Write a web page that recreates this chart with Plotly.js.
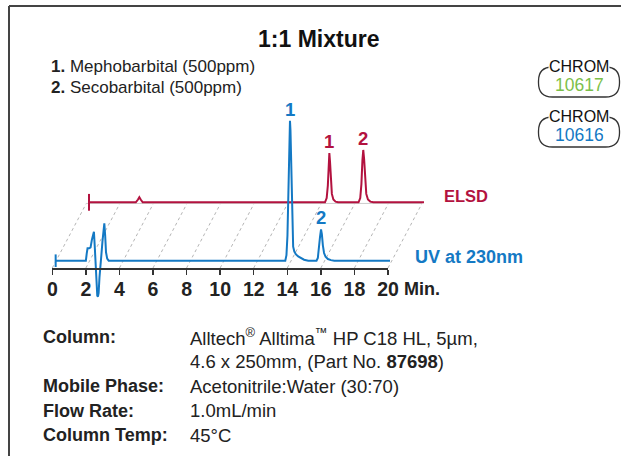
<!DOCTYPE html>
<html>
<head>
<meta charset="utf-8">
<script src="https://cdn.plot.ly/plotly-3.0.1.min.js"></script>
<style>html,body{margin:0;padding:0;background:#fff;}#chart{width:621px;height:456px;}</style>
</head>
<body>
<div id="chart"></div>
<script>
// ---------------- data ----------------
const xTicks = [0, 2, 4, 6, 8, 10, 12, 14, 16, 18, 20];
const xTickText = ["0", "2", "4", "6", "8", "10", "12", "14", "16", "18", "20"];
const xUnitLabel = "Min.";

// UV at 230nm trace (time in min, relative signal)
const uvTime = [0.20, 2.00, 2.05, 2.10, 2.20, 2.28, 2.36, 2.43, 2.48, 2.53, 2.58, 2.63, 2.68, 2.72, 2.76, 2.81, 2.87,
  2.93, 2.99, 3.05, 3.10, 3.15, 3.20, 3.27, 3.36,
  13.88, 13.95, 14.01, 14.06, 14.10, 14.13, 14.16, 14.19, 14.22, 14.26, 14.30, 14.35, 14.42, 14.52, 14.65, 14.82, 15.00, 15.25,
  15.74, 15.82, 15.89, 15.95, 16.01, 16.06, 16.12, 16.19, 16.28, 16.42, 16.60, 16.80, 20.12];
const uvSignal = [0, 0, 5, 8.9, 8.9, 9.5, 15, 19.5, 20.7, 10, -5, -18, -25, -25.7, -23, -12, 0,
  5, 14, 23, 26.7, 18, 6, 1.5, 0,
  0, 4, 18, 50, 82, 97, 100, 93, 72, 42, 20, 10, 6.5, 4.5, 3, 1.6, 0.7, 0,
  0, 2, 8, 17, 22.4, 19, 11, 5.5, 2.8, 1.2, 0.4, 0, 0];

// ELSD trace (time in min, relative signal)
const elsdTime = [0.16, 2.95, 3.08, 3.16, 3.24, 3.36,
  14.22, 14.32, 14.39, 14.44, 14.48, 14.52, 14.57, 14.63, 14.72, 14.85, 15.00,
  16.22, 16.32, 16.39, 16.45, 16.50, 16.55, 16.61, 16.68, 16.78, 16.92, 17.10, 20.12];
const elsdSignal = [0, 0, 2, 3.6, 2, 0,
  0, 3, 12, 27, 35.2, 29, 15, 6, 2, 0.5, 0,
  0, 3, 13, 30, 37.4, 31, 16, 6, 2, 0.5, 0, 0];

// peak identification
const uvPeakLabels = ["1", "2"];
const uvPeakTimes = [14.16, 16.01];
const elsdPeakLabels = ["1", "2"];
const elsdPeakTimes = [14.48, 16.50];

const traceNames = ["ELSD", "UV at 230nm"];
const titleText = "1:1 Mixture";
const compounds = ["Mephobarbital (500ppm)", "Secobarbital (500ppm)"];
const condLabels = ["Column:", "", "Mobile Phase:", "Flow Rate:", "Column Temp:"];
const condValues = ["Alltech<sup>®</sup> Alltima<sup>™</sup> HP C18 HL, 5µm,",
  "4.6 x 250mm, (Part No. <b>87698</b>)",
  "Acetonitrile:Water (30:70)", "1.0mL/min", "45°C"];
const chromCodes = ["10617", "10616"];

// ---------------- presentation ----------------
const W = 621, H = 456;
const P = x => x / W;          // px -> paper x
const Q = y => 1 - y / H;      // px -> paper y
const T0_PX = 52.3, PX_PER_MIN = 16.785;   // x calibration
const BASE_PX = 260.7, PX_PER_UNIT = 1.4;  // y calibration
const DEPTH_X = 2.026;       // perspective offset of the ELSD plane (min)
const ELSD_LIFT = 41.7;      // ELSD baseline lift (units)
const FLOOR_UV = -5.2, FLOOR_ELSD = 40.9;

const BLUE = "#1479c4", RED = "#b3123f", GREEN = "#7cbf4a", INK = "#222";
const SANS = "'Liberation Sans', Arial, Helvetica, sans-serif";

const lastTick = xTicks[xTicks.length - 1];

// perspective grid lines
const gx = [], gy = [];
xTicks.forEach(t => { gx.push(t, t + DEPTH_X, null); gy.push(FLOOR_UV, FLOOR_ELSD, null); });

const traces = [
  {x: gx, y: gy, mode: "lines", line: {color: "#b5b5b5", width: 1, dash: "3px,3px"}, hoverinfo: "skip", showlegend: false},
  {x: [xTicks[0] + DEPTH_X, lastTick + DEPTH_X], y: [FLOOR_ELSD, FLOOR_ELSD], mode: "lines",
   line: {color: "#cccccc", width: 1}, hoverinfo: "skip", showlegend: false},
  {x: elsdTime.map(t => t + DEPTH_X), y: elsdSignal.map(v => v + ELSD_LIFT), mode: "lines", name: traceNames[0],
   line: {color: RED, width: 2}, showlegend: false},
  {x: [elsdTime[0] + DEPTH_X], y: [elsdSignal[0] + ELSD_LIFT], mode: "markers", hoverinfo: "skip", showlegend: false,
   marker: {symbol: "line-ns", size: 12, line: {color: RED, width: 2}}},
  {x: uvTime, y: uvSignal, mode: "lines", name: traceNames[1], line: {color: BLUE, width: 2}, showlegend: false},
  {x: [uvTime[0]], y: [uvSignal[0]], mode: "markers", hoverinfo: "skip", showlegend: false,
   marker: {symbol: "line-ns", size: 9, line: {color: BLUE, width: 2}}},
  // carrier for the time axis
  {x: [xTicks[0], lastTick], y: [0, 0], xaxis: "x2", yaxis: "y2", mode: "lines", opacity: 0,
   line: {width: 0}, hoverinfo: "skip", showlegend: false}
];

const valueAt = (ts, vs, t) => { let k = 0; ts.forEach((x, i) => { if (Math.abs(x - t) < Math.abs(ts[k] - t)) k = i; }); return vs[k]; };

const ann = [];
ann.push({text: "<b>" + titleText + "</b>", xref: "paper", yref: "paper", x: P(319), y: Q(39), xanchor: "center", yanchor: "middle",
  showarrow: false, font: {family: SANS, size: 23, color: "#111"}});
compounds.forEach((c, i) => ann.push({text: "<b>" + (i + 1) + ".</b> " + c, xref: "paper", yref: "paper", x: P(49), y: Q(67 + 21 * i),
  xanchor: "left", yanchor: "middle", showarrow: false, font: {family: SANS, size: 17, color: INK}}));
uvPeakLabels.forEach((l, i) => ann.push({text: "<b>" + l + "</b>", xref: "x", yref: "y", x: uvPeakTimes[i],
  y: valueAt(uvTime, uvSignal, uvPeakTimes[i]), yanchor: "bottom", yshift: -1, showarrow: false,
  font: {family: SANS, size: 18.5, color: BLUE}}));
elsdPeakLabels.forEach((l, i) => ann.push({text: "<b>" + l + "</b>", xref: "x", yref: "y", x: elsdPeakTimes[i] + DEPTH_X,
  y: valueAt(elsdTime, elsdSignal, elsdPeakTimes[i]) + ELSD_LIFT, yanchor: "bottom", yshift: -1, showarrow: false,
  font: {family: SANS, size: 18.5, color: RED}}));
ann.push({text: "<b>" + traceNames[0] + "</b>", xref: "paper", yref: "paper", x: P(442), y: Q(196), xanchor: "left", yanchor: "middle",
  showarrow: false, font: {family: SANS, size: 16.5, color: RED}});
ann.push({text: "<b>" + traceNames[1] + "</b>", xref: "paper", yref: "paper", x: P(413), y: Q(257), xanchor: "left", yanchor: "middle",
  showarrow: false, font: {family: SANS, size: 18, color: BLUE}});
ann.push({text: "<b>" + xUnitLabel + "</b>", xref: "x2", yref: "paper", x: lastTick, xshift: 14, y: Q(289), xanchor: "left", yanchor: "middle",
  showarrow: false, font: {family: SANS, size: 18, color: INK}});
const rowY = [337, 361.5, 386, 410.5, 435];
condLabels.forEach((l, i) => { if (l) ann.push({text: "<b>" + l + "</b>", xref: "paper", yref: "paper", x: P(41), y: Q(rowY[i]),
  xanchor: "left", yanchor: "middle", showarrow: false, font: {family: SANS, size: 18, color: INK}}); });
condValues.forEach((v, i) => ann.push({text: v, xref: "paper", yref: "paper", x: P(188), y: Q(rowY[i]),
  xanchor: "left", yanchor: "middle", showarrow: false, font: {family: SANS, size: 18.5, color: INK}}));

// frame and CHROM badges
const shapes = [
  {type: "line", xref: "paper", yref: "paper", x0: P(9), y0: Q(6), x1: P(W), y1: Q(6), line: {color: "#444", width: 2}},
  {type: "line", xref: "paper", yref: "paper", x0: P(9), y0: Q(6), x1: P(9), y1: Q(H), line: {color: "#444", width: 2}}
];
const pill = (x0, y0, x1, y1, r) => {
  const pts = (x, y) => P(x) + "," + Q(y);
  return "M" + pts(x0 + r, y0) + " L" + pts(x1 - r, y0) + " Q" + pts(x1, y0) + " " + pts(x1, y0 + r) +
    " L" + pts(x1, y1 - r) + " Q" + pts(x1, y1) + " " + pts(x1 - r, y1) + " L" + pts(x0 + r, y1) +
    " Q" + pts(x0, y1) + " " + pts(x0, y1 - r) + " L" + pts(x0, y0 + r) + " Q" + pts(x0, y0) + " " + pts(x0 + r, y0) + " Z";
};
chromCodes.forEach((c, i) => {
  const top = 67 + 50 * i;
  shapes.push({type: "path", xref: "paper", yref: "paper", path: pill(538.5, top, 619.5, top + 30, 14),
    line: {color: "#333", width: 1.3}, layer: "below"});
  ann.push({text: "CHROM", xref: "paper", yref: "paper", x: P(579), y: Q(top - 1), xanchor: "center", yanchor: "middle",
    height: 14, showarrow: false, bgcolor: "#fff", borderpad: 0, font: {family: SANS, size: 16, color: "#111"}});
  ann.push({text: c, xref: "paper", yref: "paper", x: P(579), y: Q(top + 17), xanchor: "center", yanchor: "middle",
    height: 15, showarrow: false, font: {family: SANS, size: 17.5, color: i === 0 ? GREEN : BLUE}});
});

const layout = {
  width: W, height: H, margin: {l: 0, r: 0, t: 0, b: 0}, paper_bgcolor: "#fff", plot_bgcolor: "rgba(0,0,0,0)",
  showlegend: false,
  xaxis: {domain: [0, 1], range: [-T0_PX / PX_PER_MIN, (W - T0_PX) / PX_PER_MIN], visible: false, fixedrange: true},
  yaxis: {domain: [0, 1], range: [(BASE_PX - H) / PX_PER_UNIT, BASE_PX / PX_PER_UNIT], visible: false, fixedrange: true},
  xaxis2: {domain: [T0_PX / W, (T0_PX + lastTick * PX_PER_MIN) / W], range: [xTicks[0], lastTick], anchor: "y2",
    showline: true, linecolor: "#333", linewidth: 2, ticks: "outside", ticklen: 5, tickwidth: 1.5, tickcolor: "#333",
    tickmode: "array", tickvals: xTicks, ticktext: xTickText, showgrid: false, zeroline: false, fixedrange: true,
    ticklabelstandoff: -2,
    tickfont: {family: SANS, size: 19.5, color: INK, weight: "bold"}},
  yaxis2: {domain: [1 - 268 / H, 1 - 268 / H + 0.02], range: [0, 1], anchor: "x2", visible: false, fixedrange: true},
  shapes: shapes, annotations: ann
};

Plotly.newPlot("chart", traces, layout, {staticPlot: true, displayModeBar: false});
</script>
</body>
</html>
